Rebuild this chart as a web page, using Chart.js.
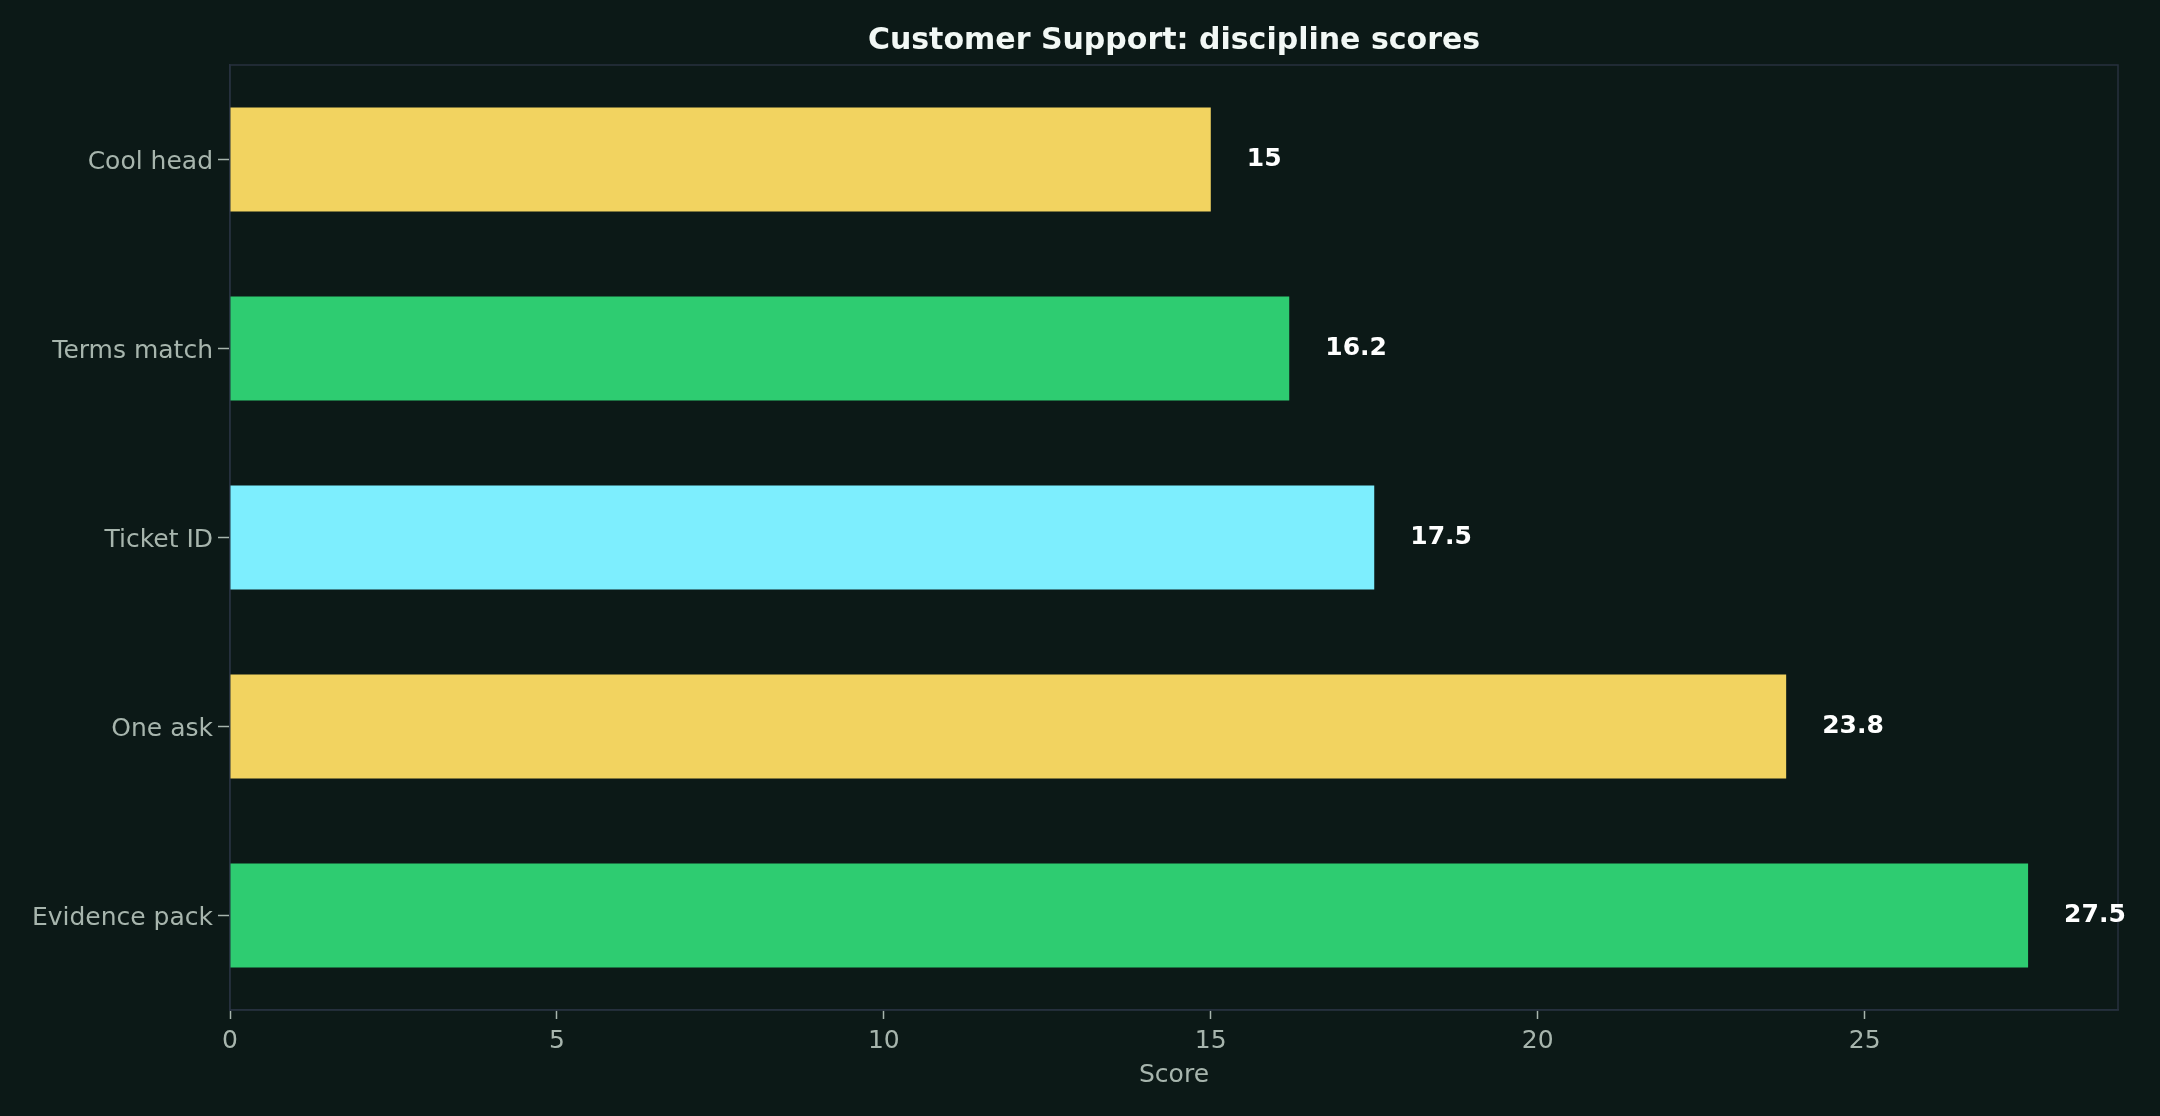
<!DOCTYPE html>
<html>
<head>
<meta charset="utf-8">
<script src="https://cdn.jsdelivr.net/npm/chart.js@4.4.0/dist/chart.umd.min.js"></script>
<style>
  html, body { margin: 0; padding: 0; background: #0c1917; }
  canvas { display: block; }
</style>
</head>
<body>
<canvas id="chart" width="2160" height="1116"></canvas>
<script>
// data
const categories = ['Cool head', 'Terms match', 'Ticket ID', 'One ask', 'Evidence pack'];
const scores = [15, 16.2, 17.5, 23.8, 27.5];
const barColors = ['#f2d360', '#2ecc71', '#7deefe', '#f2d360', '#2ecc71'];
const xTicks = [0, 5, 10, 15, 20, 25];
const xMax = 28.875;
const chartTitle = 'Customer Support: discipline scores';
const xTitle = 'Score';

const FONT = "'DejaVu Sans', sans-serif";
const tickColor = '#a7b5ad';
const spineColor = '#27303f';

let ctx = document.getElementById('chart').getContext('2d');

// frame round the plot area + title on top, centred on the plot
const framePlugin = {
    id: 'frame',
    beforeDatasetsDraw(chart) {
        const a = chart.chartArea, c = chart.ctx;
        c.save();
        c.strokeStyle = spineColor;
        c.lineWidth = 1.5;
        c.strokeRect(a.left, a.top, a.right - a.left, a.bottom - a.top);
        c.restore();
    },
    afterDraw(chart) {
        const a = chart.chartArea, c = chart.ctx;
        c.save();
        c.fillStyle = '#f2f8f5';
        c.font = 'bold 30px ' + FONT;
        c.textAlign = 'center';
        c.textBaseline = 'middle';
        c.fillText(chartTitle, (a.left + a.right) / 2, 41);
        c.restore();
    }
};

// value labels right of each bar
const valueLabels = {
    id: 'valueLabels',
    afterDatasetsDraw(chart) {
        const c = chart.ctx;
        const meta = chart.getDatasetMeta(0);
        c.save();
        c.fillStyle = '#ffffff';
        c.font = 'bold 25px ' + FONT;
        c.textAlign = 'left';
        c.textBaseline = 'middle';
        meta.data.forEach((bar, i) => {
            c.fillText(String(scores[i]), bar.x + 36, bar.y);
        });
        c.restore();
    }
};

new Chart(ctx, {
    type: 'bar',
    data: {
        labels: categories,
        datasets: [{
            label: 'Score',
            data: scores,
            backgroundColor: barColors,
            borderWidth: 0,
            barPercentage: 0.55,
            categoryPercentage: 1.0
        }]
    },
    options: {
        indexAxis: 'y',
        responsive: false,
        animation: false,
        devicePixelRatio: 1,
        layout: { padding: { top: 65, right: 42, bottom: 0, left: 0 } },
        scales: {
            x: {
                min: 0,
                max: xMax,
                afterBuildTicks: (scale) => { scale.ticks = xTicks.map(v => ({ value: v })); },
                afterFit: (scale) => { scale.height = 106; },
                ticks: { color: tickColor, font: { family: FONT, size: 25 }, padding: 7 },
                grid: { display: true, drawOnChartArea: false, tickLength: 9, tickColor: tickColor, tickWidth: 1.5 },
                border: { display: true, color: spineColor, width: 1.5 },
                title: {
                    display: true,
                    text: xTitle,
                    color: tickColor,
                    font: { family: FONT, size: 25 },
                    padding: { top: 4, bottom: 26 }
                }
            },
            y: {
                afterFit: (scale) => { scale.width = 230; },
                ticks: { color: tickColor, font: { family: FONT, size: 25 }, padding: 5, labelOffset: 3 },
                grid: { display: true, offset: false, drawOnChartArea: false, tickLength: 12, tickColor: tickColor, tickWidth: 1.5 },
                border: { display: true, color: spineColor, width: 1.5 }
            }
        },
        plugins: {
            legend: { display: false },
            title: { display: false },
            tooltip: { enabled: false }
        }
    },
    plugins: [framePlugin, valueLabels]
});
</script>
</body>
</html>
